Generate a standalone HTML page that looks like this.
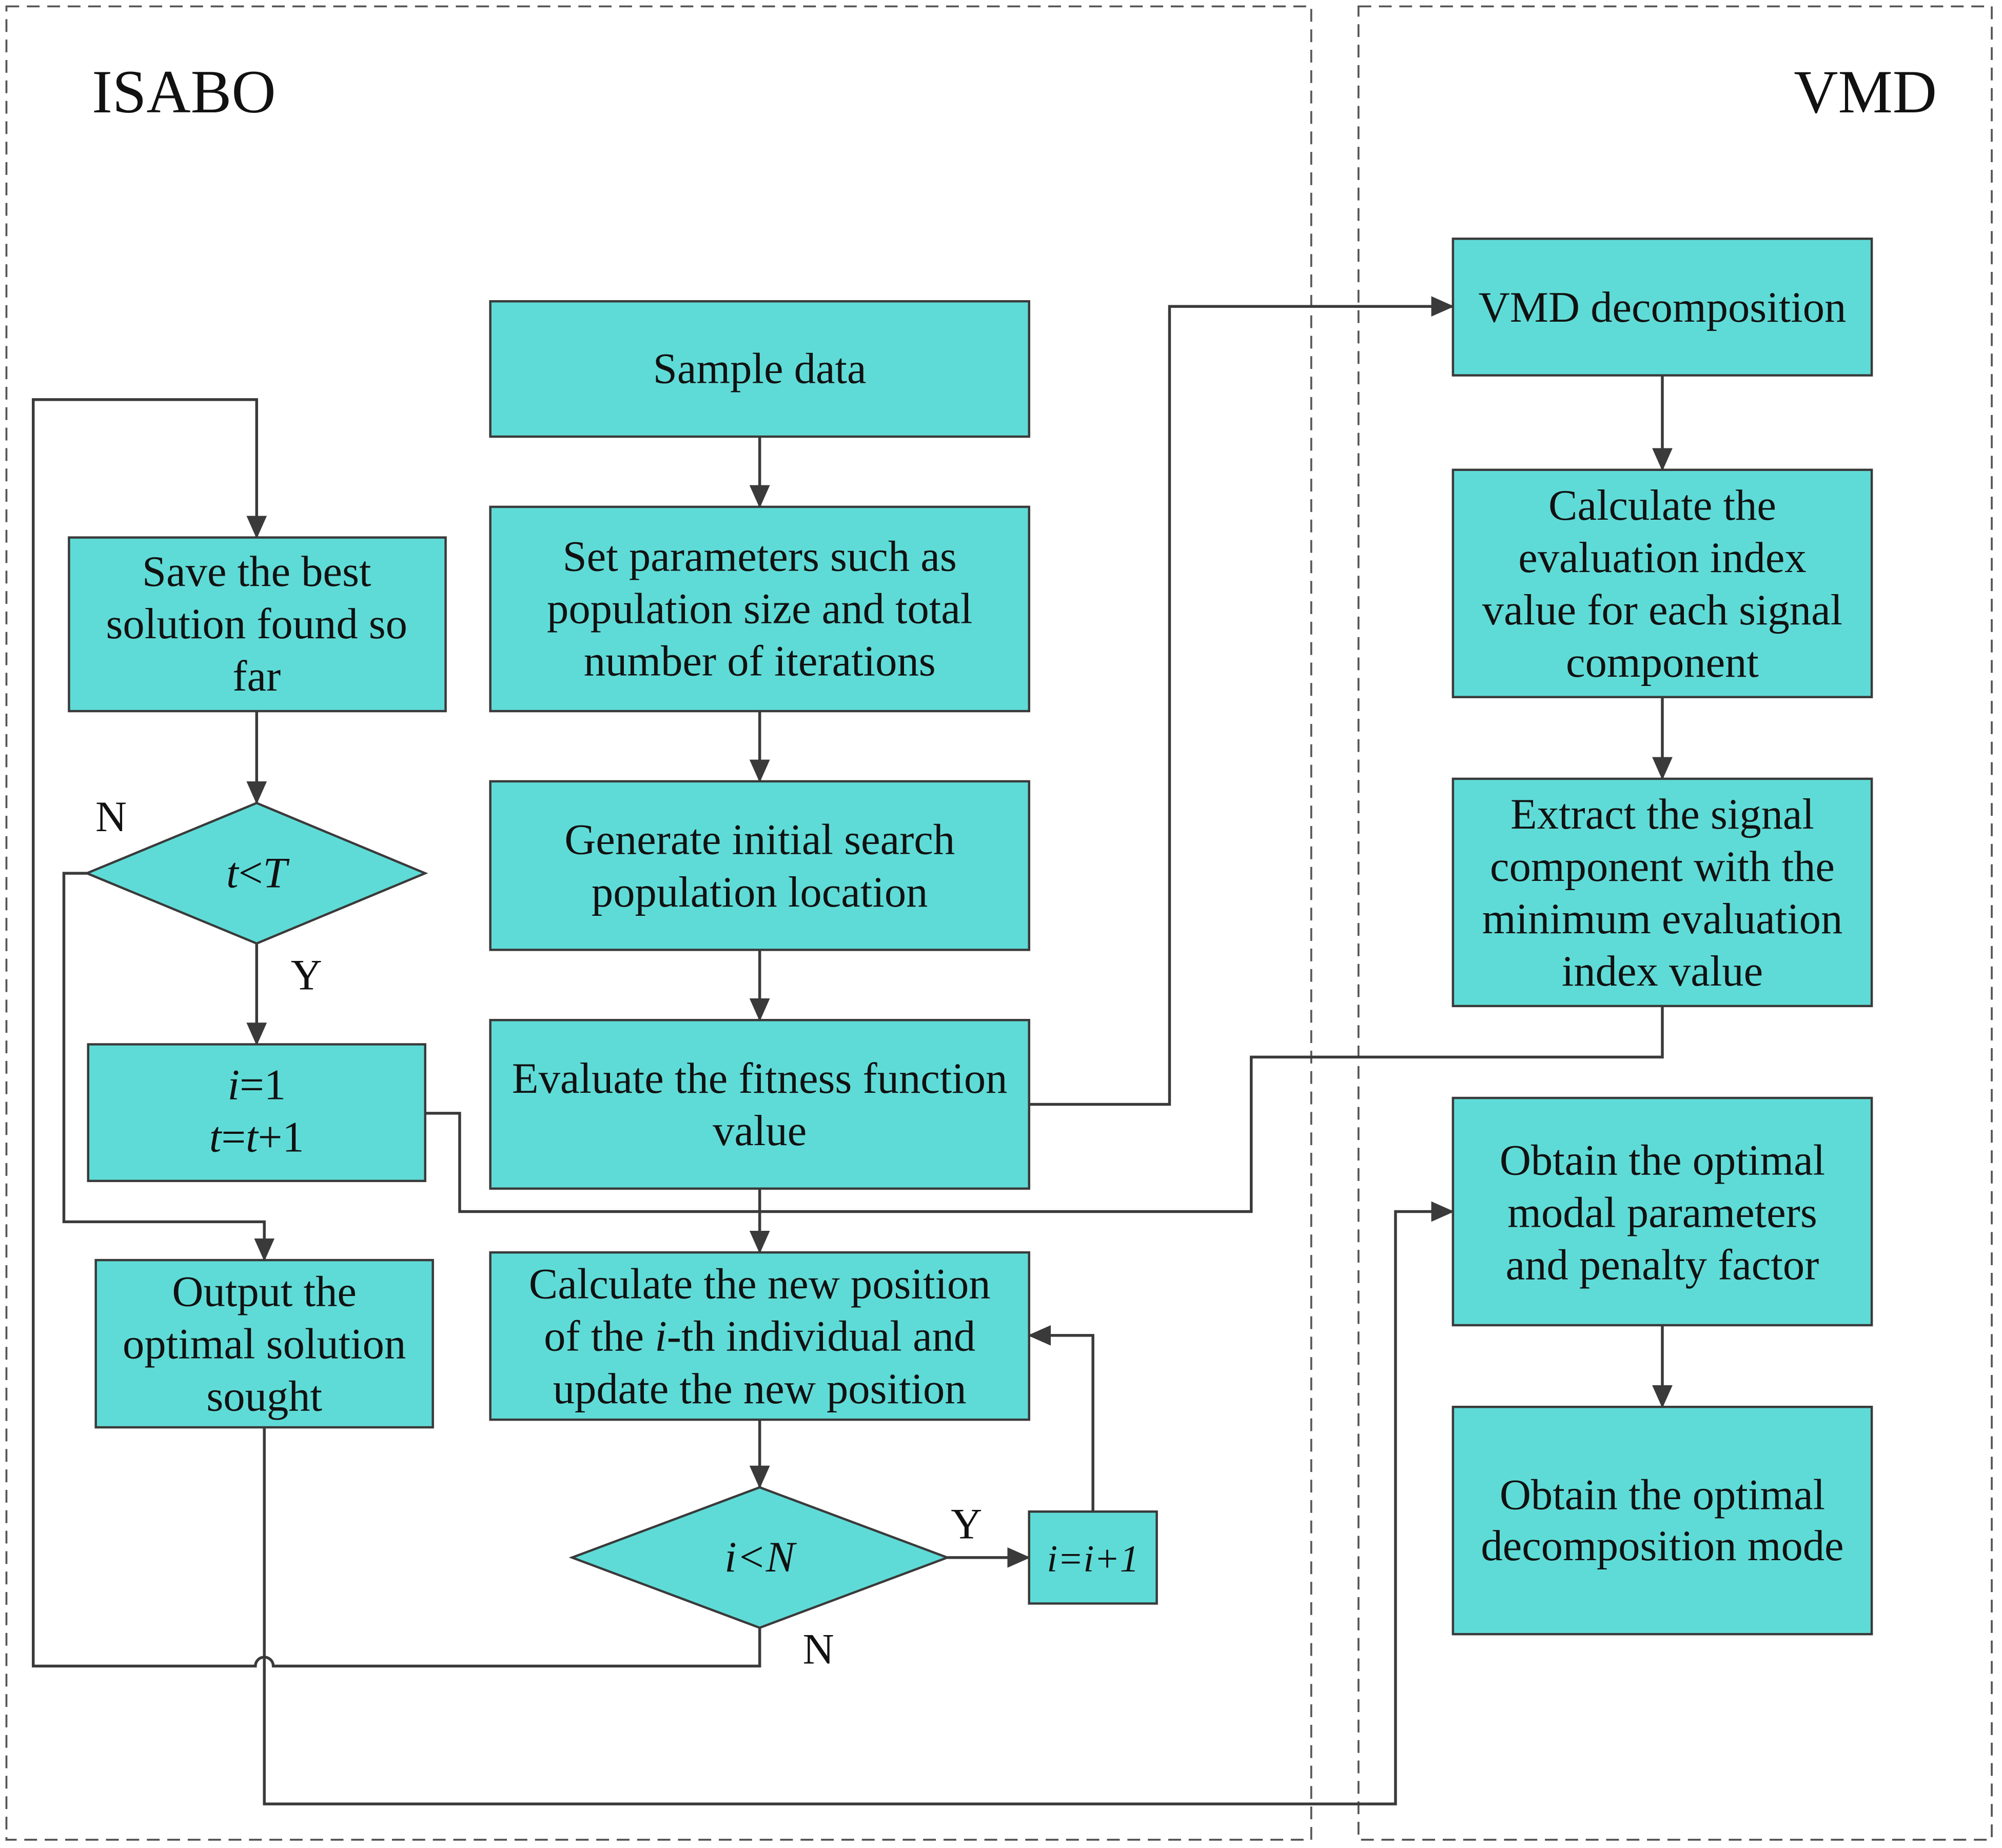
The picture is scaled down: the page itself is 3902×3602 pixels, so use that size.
<!DOCTYPE html>
<html><head><meta charset="utf-8"><style>
html,body{margin:0;padding:0;background:#fff;}
svg{display:block;}
text{font-family:"Liberation Serif",serif;fill:#111;}
</style></head><body>
<svg width="3902" height="3602" viewBox="0 0 1568 1447.5" xmlns="http://www.w3.org/2000/svg">
<defs>
<marker id="b" markerWidth="18" markerHeight="18" refX="17" refY="9" orient="auto" markerUnits="userSpaceOnUse"><path d="M0,1 L18,9 L0,17 Z" fill="#3a3a3a"/></marker></defs>
<rect x="5" y="5" width="1022" height="1436" fill="none" stroke="#555" stroke-width="1.5" stroke-dasharray="10,6"/>
<rect x="1064" y="5" width="496" height="1436" fill="none" stroke="#555" stroke-width="1.5" stroke-dasharray="10,6"/>
<text x="72" y="88" font-size="48">ISABO</text>
<text x="1517" y="88" font-size="48" text-anchor="end">VMD</text>
<g fill="#5fdbd7" stroke="#3a3a3a" stroke-width="1.8">
<rect x="384" y="236" width="422" height="106"/>
<rect x="384" y="397" width="422" height="160"/>
<rect x="384" y="612" width="422" height="132"/>
<rect x="384" y="799" width="422" height="132"/>
<rect x="384" y="981" width="422" height="131"/>
<polygon points="448,1220 595,1165 742,1220 595,1275"/>
<rect x="806" y="1184" width="100" height="72"/>
<rect x="54" y="421" width="295" height="136"/>
<polygon points="68,684 201,629 333,684 201,739"/>
<rect x="69" y="818" width="264" height="107"/>
<rect x="75" y="987" width="264" height="131"/>
<rect x="1138" y="187" width="328" height="107"/>
<rect x="1138" y="368" width="328" height="178"/>
<rect x="1138" y="610" width="328" height="178"/>
<rect x="1138" y="860" width="328" height="178"/>
<rect x="1138" y="1102" width="328" height="178"/>
</g>
<g fill="none" stroke="#3a3a3a" stroke-width="2.2">
<path d="M595,342 V397" marker-end="url(#b)"/>
<path d="M595,557 V612" marker-end="url(#b)"/>
<path d="M595,744 V799" marker-end="url(#b)"/>
<path d="M595,931 V981" marker-end="url(#b)"/>
<path d="M595,1112 V1165" marker-end="url(#b)"/>
<path d="M742,1220 H806" marker-end="url(#b)"/>
<path d="M856,1184 V1046 H806" marker-end="url(#b)"/>
<path d="M595,1275 V1305 H214 A7,7 0 0 0 200,1305 H26 V313 H201 V421" marker-end="url(#b)"/>
<path d="M201,557 V629" marker-end="url(#b)"/>
<path d="M201,739 V818" marker-end="url(#b)"/>
<path d="M68,684 H50 V957 H207 V987" marker-end="url(#b)"/>
<path d="M333,872 H360 V949 H980 V828 H1302 V788"/>
<path d="M806,865 H916 V240 H1138" marker-end="url(#b)"/>
<path d="M1302,294 V368" marker-end="url(#b)"/>
<path d="M1302,546 V610" marker-end="url(#b)"/>
<path d="M1302,1038 V1102" marker-end="url(#b)"/>
<path d="M207,1118 V1413 H1093 V949 H1138" marker-end="url(#b)"/>
</g>
<g font-size="34" text-anchor="middle">
<text x="595" y="300">Sample data</text>
<text x="595" y="447">Set parameters such as</text>
<text x="595" y="488">population size and total</text>
<text x="595" y="529">number of iterations</text>
<text x="595" y="669">Generate initial search</text>
<text x="595" y="710">population location</text>
<text x="595" y="856">Evaluate the fitness function</text>
<text x="595" y="897">value</text>
<text x="595" y="1017">Calculate the new position</text>
<text x="595" y="1058">of the <tspan font-style="italic">i</tspan>-th individual and</text>
<text x="595" y="1099">update the new position</text>
<text x="595" y="1231" font-style="italic">i&lt;N</text>
<text x="856" y="1231" font-style="italic" font-size="30">i=i+1</text>
<text x="201" y="459">Save the best</text>
<text x="201" y="500">solution found so</text>
<text x="201" y="541">far</text>
<text x="201" y="695"><tspan font-style="italic">t</tspan>&lt;<tspan font-style="italic">T</tspan></text>
<text x="201" y="861"><tspan font-style="italic">i</tspan>=1</text>
<text x="201" y="902"><tspan font-style="italic">t</tspan>=<tspan font-style="italic">t</tspan>+1</text>
<text x="207" y="1023">Output the</text>
<text x="207" y="1064">optimal solution</text>
<text x="207" y="1105">sought</text>
<text x="1302" y="252">VMD decomposition</text>
<text x="1302" y="407">Calculate the</text>
<text x="1302" y="448">evaluation index</text>
<text x="1302" y="489">value for each signal</text>
<text x="1302" y="530">component</text>
<text x="1302" y="649">Extract the signal</text>
<text x="1302" y="690">component with the</text>
<text x="1302" y="731">minimum evaluation</text>
<text x="1302" y="772">index value</text>
<text x="1302" y="920">Obtain the optimal</text>
<text x="1302" y="961">modal parameters</text>
<text x="1302" y="1002">and penalty factor</text>
<text x="1302" y="1182">Obtain the optimal</text>
<text x="1302" y="1222">decomposition mode</text>
<text x="757" y="1205">Y</text>
<text x="641" y="1303">N</text>
<text x="240" y="775">Y</text>
<text x="87" y="651">N</text>
</g>
</svg>
</body></html>
